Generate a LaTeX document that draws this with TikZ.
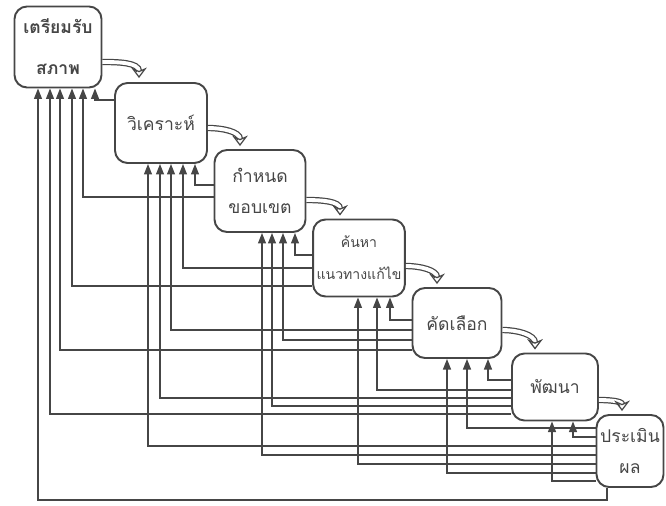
\documentclass[tikz,border=0pt]{standalone}
\usepackage{fontspec}
\newfontfamily\thaifont[Script=Thai]{Loma}
\usetikzlibrary{arrows.meta,calc}
\definecolor{inkgray}{RGB}{70,70,70}
\tikzset{
    stagebox/.style={
        rectangle,
        rounded corners=2.5mm,
        draw=inkgray,
        line width=1.1pt,
        text=inkgray,
        align=center,
        inner sep=2pt,
        font=\thaifont
    },
    back/.style={
        draw=inkgray,
        line width=0.8pt,
        -{Triangle[length=6pt,width=4.5pt]}
    },
    flow/.style={
        draw=inkgray,
        line width=0.7pt,
        double=white,
        double distance=2.2pt,
        -{Stealth[open,length=6pt,width=9pt]}
    }
}
\begin{document}
\begin{tikzpicture}[x=0.02cm,y=-0.02cm]
    \useasboundingbox (0,0) rectangle (666,506);
    % ขั้นตอน
    \node[stagebox, minimum width=1.74cm, minimum height=1.62cm] (prep) at (58,47) {\bfseries เตรียมรับ\\[4mm]\bfseries สภาพ};
    \node[stagebox, minimum width=1.84cm, minimum height=1.60cm] (analyze) at (161,123) {วิเคราะห์};
    \node[stagebox, minimum width=1.82cm, minimum height=1.64cm] (scope) at (260,191) {กำหนด\\[2mm]ขอบเขต};
    \node[stagebox, minimum width=1.76cm, minimum height=1.54cm, font=\thaifont\footnotesize] (search) at (359,258) {ค้นหา\\[3mm]แนวทางแก้ไข};
    \node[stagebox, minimum width=1.78cm, minimum height=1.40cm] (select) at (457,323) {คัดเลือก};
    \node[stagebox, minimum width=1.72cm, minimum height=1.34cm] (develop) at (555,387) {พัฒนา};
    \node[stagebox, minimum width=1.34cm, minimum height=1.44cm] (evaluate) at (630,451) {ประเมิน\\[2mm]ผล};

    % ลูกศรไปขั้นถัดไป
    \draw[flow] ($(prep.east)+(0,15)$) to[out=0,in=90] ($(analyze.north)+(-22,-4)$);
    \draw[flow] ($(analyze.east)+(0,5)$) to[out=0,in=90] ($(scope.north)+(-20,-3)$);
    \draw[flow] ($(scope.east)+(0,9)$) to[out=0,in=90] ($(search.north)+(-19,-3)$);
    \draw[flow] ($(search.east)+(0,8)$) to[out=0,in=90] ($(select.north)+(-20,-3)$);
    \draw[flow] ($(select.east)+(0,7)$) to[out=0,in=90] ($(develop.north)+(-20,-3)$);
    \draw[flow] ($(develop.east)+(0,13)$) to[out=0,in=90] ($(evaluate.north)+(-8,-3)$);

    % ย้อนกลับ
    \draw[back] (analyze.west |- 0,100) -| (prep.south -| 95,0);

    \draw[back] (scope.west |- 0,185) -| (analyze.south -| 195,0);
    \draw[back] (scope.west |- 0,197) -| (prep.south -| 83,0);

    \draw[back] (search.west |- 0,255) -| (scope.south -| 295,0);
    \draw[back] (search.west |- 0,268) -| (analyze.south -| 183,0);
    \draw[back] (search.west |- 0,286) -| (prep.south -| 72,0);

    \draw[back] (select.west |- 0,320) -| (search.south -| 390,0);
    \draw[back] (select.west |- 0,330) -| (analyze.south -| 171,0);
    \draw[back] (select.west |- 0,340) -| (scope.south -| 283,0);
    \draw[back] (select.west |- 0,350) -| (prep.south -| 60,0);

    \draw[back] (develop.west |- 0,380) -| (select.south -| 488,0);
    \draw[back] (develop.west |- 0,390) -| (search.south -| 377,0);
    \draw[back] (develop.west |- 0,398) -| (analyze.south -| 160,0);
    \draw[back] (develop.west |- 0,406) -| (scope.south -| 272,0);
    \draw[back] (develop.west |- 0,414) -| (prep.south -| 50,0);

    \draw[back] (evaluate.west |- 0,428) -| (select.south -| 467,0);
    \draw[back] (evaluate.west |- 0,437) -| (develop.south -| 573,0);
    \draw[back] (evaluate.west |- 0,446) -| (analyze.south -| 148,0);
    \draw[back] (evaluate.west |- 0,455) -| (scope.south -| 262,0);
    \draw[back] (evaluate.west |- 0,464) -| (search.south -| 358,0);
    \draw[back] (evaluate.west |- 0,473) -| (select.south -| 447,0);
    \draw[back] (evaluate.west |- 0,481) -| (develop.south -| 552,0);
    \draw[back] (evaluate.south -| 607,0) -- (607,500) -| (prep.south -| 38,0);
\end{tikzpicture}
\end{document}
